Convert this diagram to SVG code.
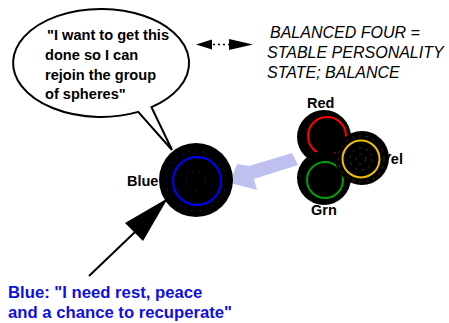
<svg xmlns="http://www.w3.org/2000/svg" width="449" height="323" viewBox="0 0 449 323">
<style>
.lbl{font-family:"Liberation Sans",Arial,sans-serif;font-weight:bold;font-size:14.5px;fill:#000}
.bub{font-family:"Liberation Sans",Arial,sans-serif;font-weight:bold;font-size:14.6px;fill:#000}
.ital{font-family:"Liberation Sans",Arial,sans-serif;font-style:italic;font-size:16px;fill:#000}
.blue{font-family:"Liberation Sans",Arial,sans-serif;font-weight:bold;font-size:16.7px;fill:#1010e0}
.ball{fill:#000}
.ring{fill:none;stroke-width:2}
.faint{fill:none;stroke-width:0.6;stroke-dasharray:3 4;opacity:0.45}
</style>
<rect width="449" height="323" fill="#fff"/>

<g id="bubble">
<path d="M151.5,107.2 A88,54 0 1 0 138.2,111.9 L172,150 Z" fill="#fff" stroke="#000" stroke-width="2" stroke-linejoin="miter"/>
<text class="bub" x="47" y="40">"I want to get this</text>
<text class="bub" x="45" y="60">done so I can</text>
<text class="bub" x="45" y="80">rejoin the group</text>
<text class="bub" x="45" y="99">of spheres"</text>
</g>

<g id="statement">
<text class="ital" x="270" y="38">BALANCED FOUR =</text>
<text class="ital" x="267" y="58">STABLE PERSONALITY</text>
<text class="ital" x="267" y="78">STATE; BALANCE</text>
</g>

<g id="connectors">
<polygon points="196,44.5 212,39.5 212,49.5" fill="#000"/>
<line x1="213" y1="44.5" x2="229" y2="44.5" stroke="#000" stroke-width="1.6" stroke-dasharray="2 3"/>
<polygon points="253,44.5 229,39 229,50" fill="#000"/>
<polygon points="292,153 298,165 254,179 257,190 230,183 237,164 249,166" fill="#c0c0f0"/>
<line x1="89" y1="276" x2="135" y2="232" stroke="#000" stroke-width="2"/>
<polygon points="125,223 143,241 168,198" fill="#000"/>
</g>

<g id="blue">
<text class="lbl" x="127" y="186">Blue</text>
<circle class="ball" cx="196" cy="180" r="37"/>
<circle class="faint" cx="196" cy="181" r="10" stroke="#4040a0"/>
<circle class="faint" cx="196" cy="181" r="30" stroke="#4040a0"/>
<circle class="ring" cx="197" cy="181" r="24" stroke="#0000ff"/>
</g>

<g id="red">
<text class="lbl" x="307" y="108">Red</text>
<circle class="ball" cx="324" cy="137" r="27"/>
<circle class="ring" cx="327" cy="136" r="19" stroke="#ff0000"/>
</g>

<g id="green">
<text class="lbl" x="311" y="215">Grn</text>
<circle class="ball" cx="324" cy="178" r="27"/>
<circle class="ring" cx="325" cy="180" r="18" stroke="#00a000"/>
</g>

<g id="yellow">
<text class="lbl" x="382" y="164">Yel</text>
<circle class="ball" cx="362" cy="158" r="27"/>
<circle class="faint" cx="361" cy="159" r="5" stroke="#e0b000"/>
<circle class="faint" cx="361" cy="159" r="11" stroke="#e0b000"/>
<circle class="faint" cx="361" cy="159" r="23" stroke="#e0b000"/>
<circle class="ring" cx="361" cy="159" r="18.5" stroke="#f0c000" stroke-width="2.5"/>
</g>

<g id="note">
<text class="blue" x="8" y="298">Blue: "I need rest, peace</text>
<text class="blue" x="8" y="318">and a chance to recuperate"</text>
</g>
</svg>
